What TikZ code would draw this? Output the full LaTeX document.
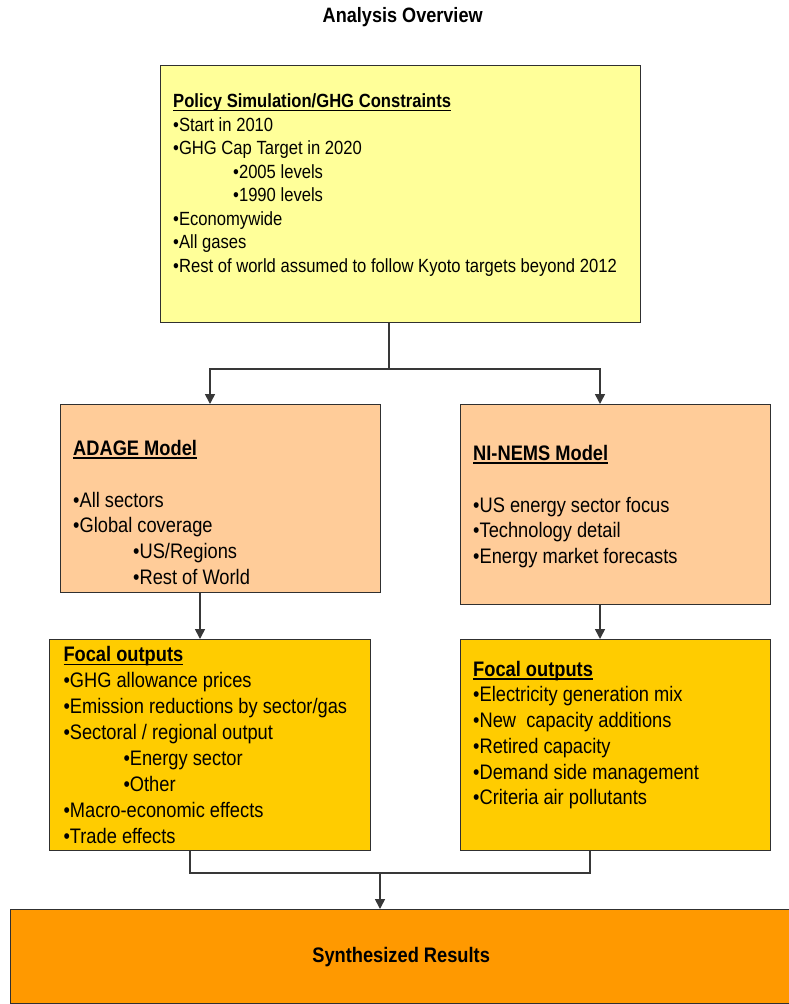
\documentclass[tikz,border=0pt]{standalone}
\usepackage{fontspec}
\setmainfont{Liberation Sans}[FakeStretch=0.87]
\usetikzlibrary{arrows.meta}
\newcommand\ulx[2][3.5pt]{\setbox0\hbox{#2}\rlap{\rule[-#1]{\wd0}{1.3pt}}\box0}
\newcommand\fsA{\fontsize{19.1pt}{23.5pt}\selectfont}
\newcommand\fsB{\fontsize{21pt}{25.9pt}\selectfont}
\newcommand\ind{\hspace*{60pt}}
\definecolor{cYel}{HTML}{FFFF99}
\definecolor{cPea}{HTML}{FFCC99}
\definecolor{cGol}{HTML}{FFCC00}
\definecolor{cOra}{HTML}{FF9900}
\definecolor{boxline}{HTML}{303030}
\definecolor{conline}{HTML}{383838}
\begin{document}
\begin{tikzpicture}[x=1pt,y=-1pt,
  box/.style={draw=boxline, line width=1.3pt, inner sep=0pt, anchor=north west},
  txt/.style={anchor=north west, inner sep=0pt, align=left},
  conn/.style={draw=conline, line width=1.6pt},
  arr/.style={conn, -{Triangle[length=10pt,width=10pt]}}]
\useasboundingbox (0,0) rectangle (789,1004);
\clip (0,0) rectangle (789,1004);
\fill[white] (0,0) rectangle (789,1004);

\node[anchor=base, inner sep=0pt, font=\fontsize{20.8pt}{24pt}\selectfont\bfseries] (title) at (402.7,22.7) {Analysis Overview};

% boxes
\node[box, fill=cYel, minimum width=480.5pt, minimum height=257pt] (top) at (159.5,65) {};
\node[box, fill=cPea, minimum width=320.5pt, minimum height=188pt] (adage) at (59.5,404) {};
\node[box, fill=cPea, minimum width=310pt, minimum height=200pt] (nems) at (460,404) {};
\node[box, fill=cGol, minimum width=321pt, minimum height=211pt] (outL) at (49,639) {};
\node[box, fill=cGol, minimum width=310pt, minimum height=211pt] (outR) at (460,639) {};
\node[box, fill=cOra, minimum width=781pt, minimum height=94pt, font=\fsB\bfseries] (synth) at (10,909) {\raisebox{-1.5pt}{Synthesized Results}};

% texts
\node[txt, font=\fsA] (toptxt) at (173,91.5) {\rule{0pt}{16pt}\bfseries\ulx[3.7pt]{Policy Simulation/GHG Constraints}\\
•Start in 2010\\
•GHG Cap Target in 2020\\
\ind•2005 levels\\
\ind•1990 levels\\
•Economywide\\
•All gases\\
•Rest of world assumed to follow Kyoto targets beyond 2012};

\node[txt, font=\fsB] (adagetxt) at (73,438) {\rule{0pt}{17pt}\bfseries\ulx[3.3pt]{ADAGE Model}\\
\mbox{}\\
•All sectors\\
•Global coverage\\
\ind•US/Regions\\
\ind•Rest of World};

\node[txt, font=\fsB] (nemstxt) at (473,443) {\rule{0pt}{17pt}\bfseries\ulx[3.3pt]{NI-NEMS Model}\\
\mbox{}\\
•US energy sector focus\\
•Technology detail\\
•Energy market forecasts};

\node[txt, font=\fsB] (outLtxt) at (63.3,644.7) {\rule{0pt}{17pt}\bfseries\ulx[3.3pt]{Focal outputs}\\
•GHG allowance prices\\
•Emission reductions by sector/gas\\
•Sectoral / regional output\\
\ind•Energy sector\\
\ind•Other\\
•Macro-economic effects\\
•Trade effects};

\node[txt, font=\fontsize{21pt}{25.7pt}\selectfont] (outRtxt) at (473,659) {\rule{0pt}{17pt}\bfseries\ulx[3.3pt]{Focal outputs}\\
•Electricity generation mix\\
•New\ \ capacity additions\\
•Retired capacity\\
•Demand side management\\
•Criteria air pollutants};

% connectors
\coordinate (jC) at (389,369);
\coordinate (jL) at (210,369);
\coordinate (jR) at (600,369);
\coordinate (xA) at (200,600);
\coordinate (mL) at (190,873);
\coordinate (mR) at (590,873);
\coordinate (mC) at (380,873);

\draw[conn] (top.south -| jC) -- (jC);
\draw[arr] (jC) -- (jL) -- (adage.north -| jL);
\draw[arr] (jC) -- (jR) -- (nems.north -| jR);
\draw[arr] (adage.south -| xA) -- (outL.north -| xA);
\draw[arr] (nems.south -| jR) -- (outR.north -| jR);
\draw[conn] (outL.south -| mL) -- (mL) -- (mR) -- (outR.south -| mR);
\draw[arr] (mC) -- (synth.north -| mC);
\end{tikzpicture}
\end{document}
